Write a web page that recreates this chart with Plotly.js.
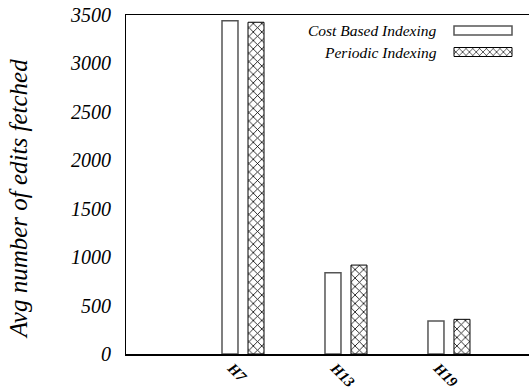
<!DOCTYPE html>
<html>
<head>
<meta charset="utf-8">
<script src="https://cdn.plot.ly/plotly-3.0.1.min.js"></script>
<style>
html,body{margin:0;padding:0;background:#fff;}
#chart{width:529px;height:392px;}
</style>
</head>
<body>
<div id="chart"></div>
<script>
const categories = ["H7", "H13", "H19"];
const costBased = [3440, 840, 340];
const periodic = [3425, 918, 358];
const seriesNames = ["Cost Based Indexing", "Periodic Indexing"];
const yTicks = [0, 500, 1000, 1500, 2000, 2500, 3000, 3500];

const serif = "'Liberation Serif', 'Times New Roman', serif";

const traces = [
  {
    type: "bar", x: categories, y: costBased, name: " ",
    marker: { color: "#ffffff", line: { color: "#555555", width: 1.5 } }
  },
  {
    type: "bar", x: categories, y: periodic, name: " ",
    marker: {
      color: "#ffffff",
      line: { color: "#000000", width: 1 },
      pattern: { shape: "x", size: 6, solidity: 0.25, fgcolor: "#000000", bgcolor: "#ffffff" }
    }
  }
];

// y tick labels drawn as italic text at each tick value on the y axis scale
const yTickLabels = yTicks.map(v => ({
  text: "<i>" + v + "</i>", xref: "paper", yref: "y", x: 0, y: v,
  xanchor: "right", yanchor: "middle", xshift: -13, showarrow: false,
  font: { family: serif, size: 20, color: "#000" }
}));

const layout = {
  width: 529, height: 392,
  margin: { l: 126, r: 0, t: 15, b: 38 },
  paper_bgcolor: "#ffffff", plot_bgcolor: "#ffffff",
  barmode: "group", bargap: 0.495, bargroupgap: 0.385,
  showlegend: true,
  legend: {
    x: 0.80, xanchor: "left", y: 0.995, yanchor: "top",
    bgcolor: "rgba(0,0,0,0)", font: { family: serif, size: 16 },
    tracegroupgap: 0, itemwidth: 30, traceorder: "normal"
  },
  xaxis: {
    type: "category", range: [-1.136, 2.777],
    tickvals: categories, ticktext: categories.map(c => "<b><i>" + c + "</i></b>"),
    showline: true, mirror: true, linecolor: "#000", linewidth: 1.5,
    showgrid: false, zeroline: false, ticks: "",
    tickangle: 45, ticklabelshift: -11, ticklabelstandoff: -2,
    tickfont: { family: serif, size: 15, color: "#000" }
  },
  yaxis: {
    range: [0, 3500], tickvals: yTicks, showticklabels: false,
    showline: true, linecolor: "#000", linewidth: 1.5,
    showgrid: false, zeroline: false, ticks: ""
  },
  annotations: yTickLabels.concat([
    {
      text: "<i>Avg number of edits fetched</i>", textangle: -90,
      xref: "paper", yref: "paper", x: -0.268, y: 0.457,
      xanchor: "center", yanchor: "middle", showarrow: false,
      font: { family: serif, size: 25, color: "#000" }
    },
    {
      text: "<i>" + seriesNames[0] + "</i>", xref: "paper", yref: "paper", x: 0.7767, y: 0.953,
      xanchor: "right", yanchor: "middle", showarrow: false,
      font: { family: serif, size: 15.5, color: "#000" }
    },
    {
      text: "<i>" + seriesNames[1] + "</i>", xref: "paper", yref: "paper", x: 0.7767, y: 0.888,
      xanchor: "right", yanchor: "middle", showarrow: false,
      font: { family: serif, size: 15.5, color: "#000" }
    }
  ])
};

Plotly.newPlot("chart", traces, layout, { displayModeBar: false, staticPlot: true }).then(function (gd) {
  // let the key swatches draw outside the (narrow) legend box
  gd.querySelectorAll(".legend .scrollbox").forEach(function (s) { s.removeAttribute("clip-path"); });
  gd.querySelectorAll(".legend").forEach(function (s) { s.removeAttribute("clip-path"); });
  // reshape legend swatches into long flat boxes placed like the reference key
  const targetCenters = [30.5, 52];
  const root = gd.getBoundingClientRect();
  gd.querySelectorAll(".legend .legendpoints path").forEach(function (p, i) {
    p.setAttribute("d", "M29,4.5H-29V-4.5H29Z");
    const r = p.getBoundingClientRect();
    const cx = (r.left + r.right) / 2 - root.left;
    const cy = (r.top + r.bottom) / 2 - root.top;
    const dx = 483 - cx;
    const dy = (targetCenters[i] !== undefined ? targetCenters[i] : cy) - cy;
    const t = p.getAttribute("transform") || "";
    p.setAttribute("transform", t + " translate(" + dx + "," + dy + ")");
  });
});
</script>
</body>
</html>
